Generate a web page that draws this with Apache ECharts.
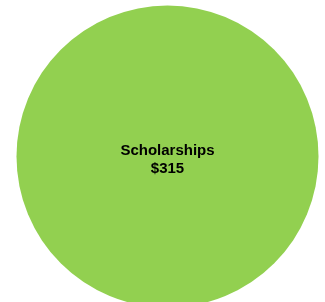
<!DOCTYPE html>
<html>
<head>
<meta charset="utf-8">
<script src="https://cdn.jsdelivr.net/npm/echarts@6/dist/echarts.min.js"></script>
<style>
  html, body { margin: 0; padding: 0; background: #fff; }
  #chart { width: 325px; height: 302px; }
</style>
</head>
<body>
<div id="chart"></div>
<script>
// one slice only
const categories = ["Scholarships"];
const values = [315];
const colors = ["#92D050"];

const chart = echarts.init(document.getElementById("chart"));

const option = {
  animation: false,
  series: [
    {
      type: "pie",
      center: [167.5, 156.5],
      radius: [0, 151],
      startAngle: 90,
      silent: true,
      data: categories.map((name, i) => ({
        name: name,
        value: values[i],
        itemStyle: { color: colors[i] },
      })),
      label: {
        show: true,
        position: "center",
        formatter: (p) => p.name + "\n$" + p.value,
        fontFamily: "Liberation Sans, Arial, sans-serif",
        fontWeight: "bold",
        fontSize: 15,
        lineHeight: 18,
        color: "#000",
        offset: [0, 3],
      },
      labelLine: { show: false },
    },
  ],
};

chart.setOption(option);
</script>
</body>
</html>
